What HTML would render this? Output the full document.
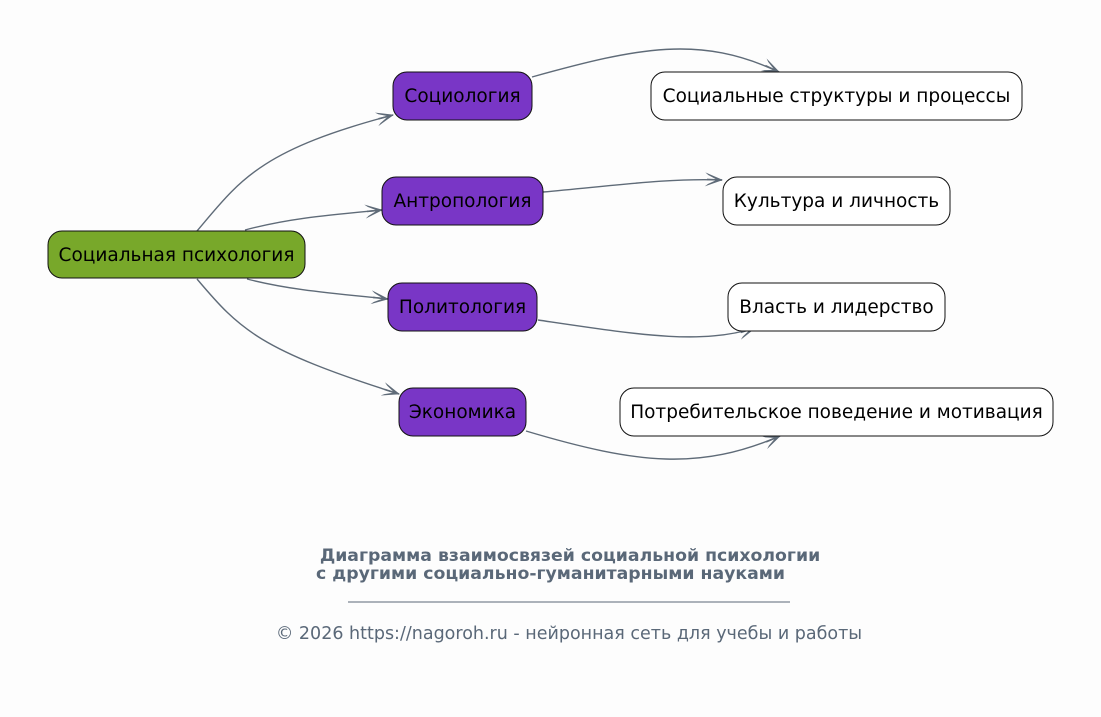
<!DOCTYPE html>
<html><head><meta charset="utf-8"><style>
html,body{margin:0;padding:0;background:#fdfdfd;}
svg{display:block;font-family:"DejaVu Sans","Liberation Sans",sans-serif;}
</style></head><body>
<svg width="1101" height="717" viewBox="0 0 1101 717" xmlns="http://www.w3.org/2000/svg">
<defs>
<marker id="a" viewBox="0 0 18 14" refX="17" refY="7" markerWidth="18" markerHeight="14" markerUnits="userSpaceOnUse" orient="auto">
<path d="M0,0 L18,7 L0,14 L3,11.5 L12,7 L3,2.5 z" fill="#5f6b78"/>
<path d="M2,7 L17,7" stroke="#5f6b78" stroke-width="1.6"/>
</marker>
</defs>
<rect width="1101" height="717" fill="#fdfdfd"/>
<g fill="none" stroke="#5f6b78" stroke-width="1.4" marker-end="url(#a)">
<path d="M197,231 C240,180 260,150 393,115"/>
<path d="M245,230 C290,218 330,215 382,210"/>
<path d="M247,279 C290,290 330,293 388,299"/>
<path d="M197,279 C240,330 260,350 399,394"/>
<path d="M532,77 C640,47 700,35 779,72"/>
<path d="M543,192 C620,185 670,178 722,180"/>
<path d="M538,320 C640,335 700,345 755,328"/>
<path d="M526,431 C640,465 700,470 780,436"/>
</g>
<g stroke="#111" stroke-width="1">
<rect x="48" y="231" width="257" height="47" rx="14" fill="#78a82a"/>
<rect x="393" y="72" width="139" height="48" rx="14" fill="#7936c6"/>
<rect x="382" y="177" width="161" height="48" rx="14" fill="#7936c6"/>
<rect x="388" y="283" width="149" height="48" rx="14" fill="#7936c6"/>
<rect x="399" y="388" width="127" height="48" rx="14" fill="#7936c6"/>
<rect x="651" y="72" width="371" height="48" rx="14" fill="#fff"/>
<rect x="723" y="177" width="227" height="48" rx="14" fill="#fff"/>
<rect x="728" y="283" width="217" height="48" rx="14" fill="#fff"/>
<rect x="620" y="388" width="433" height="48" rx="14" fill="#fff"/>
</g>
<g font-size="18.5" fill="#000" text-anchor="middle">
<text x="176.5" y="261">Социальная психология</text>
<text x="462.5" y="102">Социология</text>
<text x="462.5" y="207">Антропология</text>
<text x="462.5" y="313">Политология</text>
<text x="462.5" y="418">Экономика</text>
<text x="836.5" y="102">Социальные структуры и процессы</text>
<text x="836.5" y="207">Культура и личность</text>
<text x="836.5" y="313">Власть и лидерство</text>
<text x="836.5" y="418">Потребительское поведение и мотивация</text>
</g>
<g fill="#5a6878">
<text x="570" y="561" font-size="17.3" font-weight="bold" text-anchor="middle">Диаграмма взаимосвязей социальной психологии</text>
<text x="316" y="579" font-size="17.3" font-weight="bold">с другими социально-гуманитарными науками</text>
<line x1="348" y1="602" x2="790" y2="602" stroke="#5a6878" stroke-width="1"/>
<text x="569" y="639" font-size="17.5" text-anchor="middle">© 2026 https://nagoroh.ru - нейронная сеть для учебы и работы</text>
</g>
</svg>
</body></html>
